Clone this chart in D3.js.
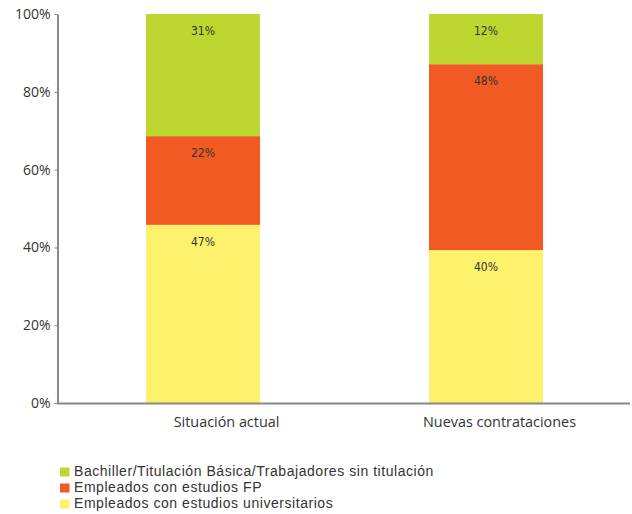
<!DOCTYPE html>
<html><head><meta charset="utf-8">
<script src="https://cdn.jsdelivr.net/npm/d3@7"></script>
<style>body{margin:0;background:#fff}svg{display:block}</style>
</head><body>
<script>
const categories = ["Situación actual", "Nuevas contrataciones"];
const seriesNames = ["Empleados con estudios universitarios", "Empleados con estudios FP", "Bachiller/Titulación Básica/Trabajadores sin titulación"];
const universitarios = [45.8, 39.3];
const fp = [22.8, 47.8];
const bachiller = [31.4, 12.9];
const labelsUniv = ["47%", "40%"];
const labelsFP = ["22%", "48%"];
const labelsBach = ["31%", "12%"];
const yTicks = [0, 20, 40, 60, 80, 100];
const colors = ["#fef26c", "#f15a22", "#bed630"];

const W = 632, H = 514;
const svg = d3.select("body").append("svg").attr("width", W).attr("height", H);
const font = "'Open Sans', 'DejaVu Sans', sans-serif";

const y = d3.scaleLinear().domain([0, 100]).range([403, 14]);
const x = d3.scaleBand().domain(categories).range([61.5, 627.5]).padding(0);
const xLabel = d3.scalePoint().domain(categories).range([226, 499]);
const bw = 114;

const series = [universitarios, fp, bachiller];
const labels = [labelsUniv, labelsFP, labelsBach];
const rows = categories.map((c, i) => ({c, vals: series.map(s => s[i])}));
const stack = d3.stack().keys([0, 1, 2]).value((d, k) => d.vals[k]);
const stacked = stack(rows);

stacked.forEach((layer, k) => {
  svg.append("g").selectAll("rect").data(layer).join("rect")
    .attr("x", d => x(d.data.c) + x.bandwidth() / 2 - bw / 2)
    .attr("width", bw)
    .attr("y", d => y(Math.min(d[1], 100)))
    .attr("height", d => y(d[0]) - y(Math.min(d[1], 100)))
    .attr("fill", colors[k]);
  svg.append("g").selectAll("text").data(layer).join("text")
    .attr("x", d => x(d.data.c) + x.bandwidth() / 2)
    .attr("y", d => y(Math.min(d[1], 100)) + 21)
    .attr("text-anchor", "middle")
    .attr("font-family", "'DejaVu Sans Condensed', 'DejaVu Sans', sans-serif")
    .attr("font-stretch", "condensed")
    .attr("font-size", 12)
    .attr("fill", "#333")
    .text((d, i) => labels[k][i]);
});

// y axis
const yAxis = d3.axisLeft(y).tickValues(yTicks).tickFormat(d => d + "%").tickSize(3).tickSizeOuter(0);
const gy = svg.append("g").attr("transform", "translate(57.5,0)").call(yAxis);
gy.select(".domain").attr("stroke", "#888").attr("stroke-width", 2);
gy.selectAll(".tick line").attr("stroke", "#888");
gy.selectAll(".tick text").attr("font-family", font).attr("font-size", 14).attr("fill", "#333").attr("x", -7);

// x axis baseline
svg.append("line").attr("x1", 57).attr("x2", 630).attr("y1", 403.5).attr("y2", 403.5)
  .attr("stroke", "#888").attr("stroke-width", 2);
// category labels
const xAxis = d3.axisBottom(xLabel).tickSize(0).tickPadding(14);
const gx = svg.append("g").attr("transform", "translate(0,403)").call(xAxis);
gx.select(".domain").remove();
gx.selectAll(".tick text").attr("font-family", font).attr("font-size", 14.4).attr("fill", "#333");

// legend
const legendOrder = [2, 1, 0];
const lg = svg.append("g");
legendOrder.forEach((k, j) => {
  const base = 476 + j * 16;
  lg.append("rect").attr("x", 60).attr("y", base - 8.5).attr("width", 9.5).attr("height", 9).attr("fill", colors[k]);
  lg.append("text").attr("x", 74).attr("y", base)
    .attr("font-family", "'Liberation Sans', Arial, sans-serif").attr("font-size", 14)
    .attr("letter-spacing", 0.55)
    .attr("fill", "#333").text(seriesNames[k]);
});
</script>
</body></html>
